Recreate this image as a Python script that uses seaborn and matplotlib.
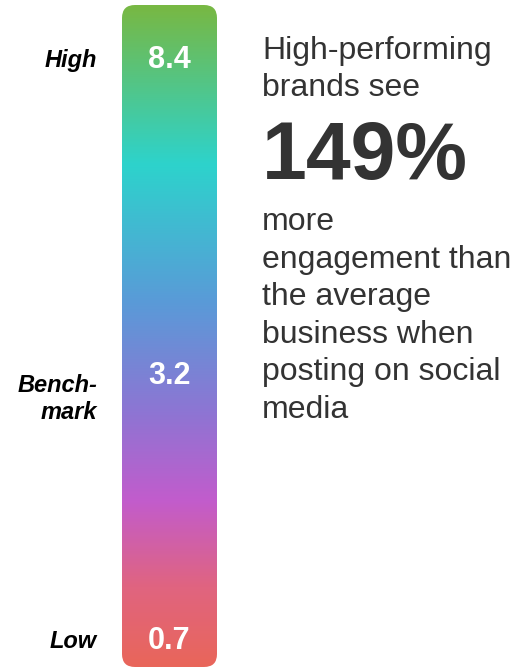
import numpy as np
import matplotlib
matplotlib.use("Agg")
import matplotlib.pyplot as plt
import seaborn as sns
from matplotlib.colors import LinearSegmentedColormap
from matplotlib.patches import FancyBboxPatch

# ---- data ----
levels = ["High", "Bench-\nmark", "Low"]
values = [8.4, 3.2, 0.7]
headline_top = ["High-performing", "brands see"]
headline_stat = "149%"
headline_bottom = ["more", "engagement than", "the average", "business when", "posting on social", "media"]

# ---- style ----
sns.set_theme(style="white")
plt.rcParams["font.family"] = ["Liberation Sans", "DejaVu Sans"]

W, H = 514, 668
fig = plt.figure(figsize=(W / 100, H / 100), dpi=100)
ax = fig.add_axes([0, 0, 1, 1])
ax.set_xlim(0, W)
ax.set_ylim(H, 0)
ax.axis("off")

# gradient bar
bar_x0, bar_x1, bar_y0, bar_y1 = 122, 217, 5, 667
stops = [(0.0, "#78b843"), (0.24, "#2dd3cc"), (0.45, "#5a9ad8"),
         (0.62, "#8f74d3"), (0.75, "#c25ccc"), (0.88, "#e06480"), (1.0, "#e9665a")]
cmap = LinearSegmentedColormap.from_list("grad", stops)
grad = np.linspace(0, 1, 256).reshape(-1, 1)
im = ax.imshow(grad, cmap=cmap, aspect="auto",
               extent=[bar_x0, bar_x1, bar_y1, bar_y0], origin="upper", zorder=1)
clip = FancyBboxPatch((bar_x0, bar_y0), bar_x1 - bar_x0, bar_y1 - bar_y0,
                      boxstyle="round,pad=0,rounding_size=13",
                      transform=ax.transData, facecolor="none", edgecolor="none")
ax.add_patch(clip)
im.set_clip_path(clip)

# labels
ys = [60, 376, 641]
label_ys = [60, 399, 641]
for lab, v, y, ly in zip(levels, values, ys, label_ys):
    ax.text(bar_x0 + (bar_x1 - bar_x0) / 2, y, f"{v:.1f}", color="white",
            fontsize=22, fontweight="bold", ha="center", va="center", zorder=3)
    ax.text(97, ly, lab, color="black", fontsize=17, fontweight="bold",
            style="italic", ha="right", va="center", linespacing=1.2, zorder=3)

# right text
tx = 262
txt_color = "#333333"
y = 51
for line in headline_top:
    ax.text(tx, y, line, color=txt_color, fontsize=23, ha="left", va="center")
    y += 37.5
ax.text(tx, 158, headline_stat, color=txt_color, fontsize=58, fontweight="bold",
        ha="left", va="center")
y = 222
for line in headline_bottom:
    ax.text(tx, y, line, color=txt_color, fontsize=23, ha="left", va="center")
    y += 37.6

fig.savefig("out.png", dpi=100)
